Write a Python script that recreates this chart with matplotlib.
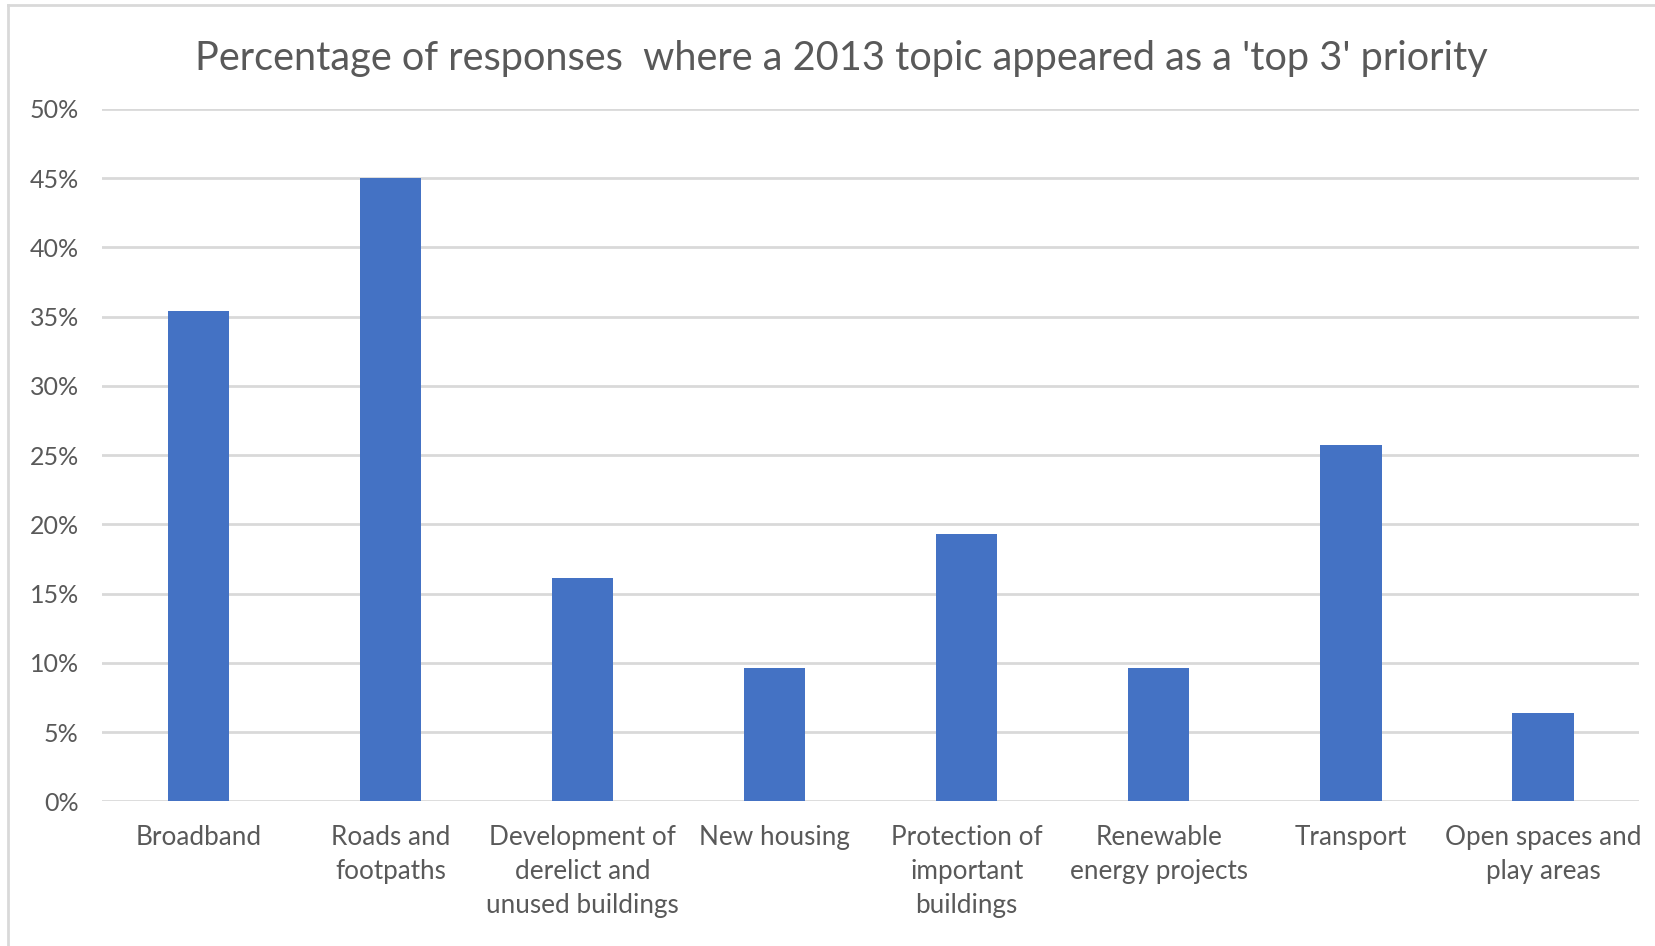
import matplotlib
matplotlib.use("Agg")
import matplotlib.pyplot as plt
from matplotlib.lines import Line2D
from matplotlib.ticker import FuncFormatter, MultipleLocator

categories = ["Broadband", "Roads and\nfootpaths", "Development of\nderelict and\nunused buildings",
              "New housing", "Protection of\nimportant\nbuildings", "Renewable\nenergy projects",
              "Transport", "Open spaces and\nplay areas"]
values = [35.4, 45.0, 16.1, 9.6, 19.3, 9.6, 25.7, 6.4]
title = "Percentage of responses  where a 2013 topic appeared as a 'top 3' priority"

plt.rcParams['font.family'] = ['Lato', 'DejaVu Sans']
text_color = "#595959"

fig = plt.figure(figsize=(16.56, 9.46), dpi=100)
ax = fig.add_axes([0.0618, 0.1529, 0.9279, 0.7321])

x = list(range(len(categories)))
ax.bar(x, values, width=0.32, color="#4472C4", zorder=3)
ax.set_xlim(-0.5, len(categories) - 0.5)
ax.set_ylim(0, 50)
ax.yaxis.set_major_locator(MultipleLocator(5))
ax.yaxis.set_major_formatter(FuncFormatter(lambda v, p: f"{v:.0f}%"))
ax.grid(axis='y', color="#D9D9D9", linewidth=2, zorder=0)
for s in ax.spines.values():
    s.set_visible(False)
ax.tick_params(axis='both', length=0, labelcolor=text_color)
ax.tick_params(axis='y', pad=17, labelsize=18)
ax.tick_params(axis='x', pad=17, labelsize=18.8)
ax.set_xticks(x)
ax.set_xticklabels(categories, linespacing=1.45)

fig.text(0.508, 0.938, title, ha='center', va='center', fontsize=28.6, color=text_color)

fig.add_artist(Line2D([0.005, 0.005], [0.0, 0.995], color="#D9D9D9", lw=2, transform=fig.transFigure))
fig.add_artist(Line2D([0.005, 1.0], [0.995, 0.995], color="#D9D9D9", lw=2, transform=fig.transFigure))

fig.savefig("out.png", dpi=100, facecolor="white")
